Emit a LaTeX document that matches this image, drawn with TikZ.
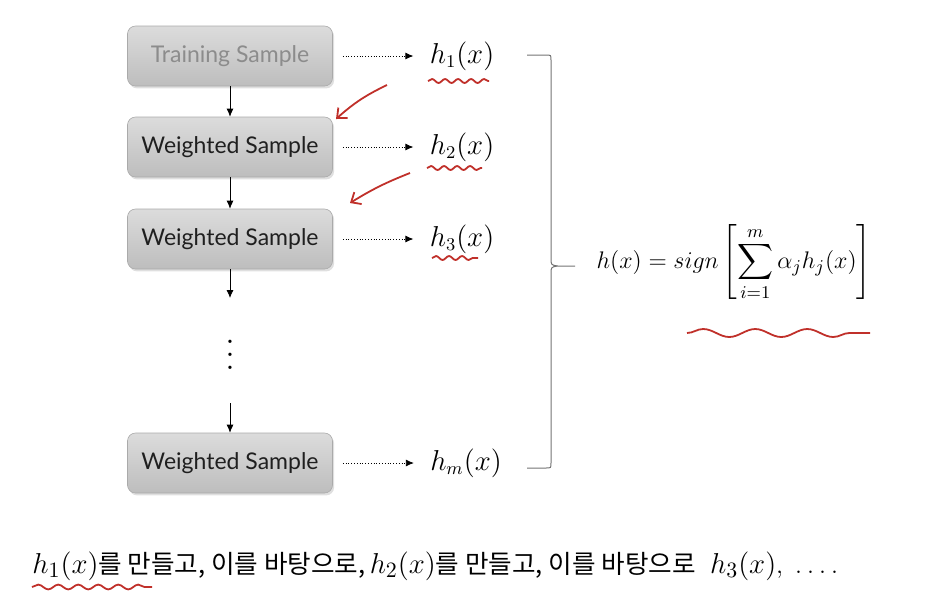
\documentclass[tikz,border=0pt]{standalone}
\usepackage{fontspec}
\usepackage{amsmath, amssymb}
\newfontfamily\boxfont{Lato}
\newfontfamily\kofont{Noto Sans CJK KR}
\usetikzlibrary{arrows.meta, positioning, shadows, decorations.pathmorphing}
\definecolor{ink}{HTML}{C0302A}
\definecolor{boxtop}{HTML}{DCDCDC}
\definecolor{boxbot}{HTML}{BDBDBD}
\newcommand{\hx}[1]{{\fontsize{15.5}{17}\selectfont$#1$}}

\begin{document}
\begin{tikzpicture}[
        x=0.5pt, y=-0.5pt, on grid, >={Latex[length=4pt,width=3.5pt]},
        sample/.style={rounded corners=4pt, minimum width=102.5pt, minimum height=30pt,
          top color=boxtop, bottom color=boxbot, draw=boxbot!90!black, line width=0.3pt,
          drop shadow={shadow xshift=0.8pt, shadow yshift=-1.2pt, opacity=0.25},
          font=\boxfont\fontsize{11.5}{14}\selectfont, text=black!88},
        hyp/.style={font=\fontsize{13.5}{16}\selectfont, inner sep=1pt},
        weak/.style={->, densely dotted, shorten <=5pt, shorten >=7pt},
        wavy/.style={ink, line width=0.9pt, decorate,
          decoration={snake, amplitude=1pt, segment length=6.5pt}},
        scribble/.style={ink, line width=0.9pt, -{Straight Barb[length=4pt,width=7pt]}},
        ]
        \useasboundingbox (0,0) rectangle (938,591);

        \node[sample, text=black!45]    (ts) at (230,56)           {Training Sample};
        \node[sample]                   (w1) [below=45.5pt of ts]  {Weighted Sample};
        \node[sample]                   (w2) [below=46pt of w1]    {Weighted Sample};
        \node                           (dots) [below=53pt of w2]  {\scalebox{1.6}{$\boldsymbol{\vdots}$}};
        \node[sample]                   (wm) [below=112pt of w2]   {Weighted Sample};
        \node[coordinate] (w2end) [below=29.5pt of w2] {};
        \node[coordinate] (wmbeg) [above=30pt of wm] {};

        \node[hyp] (h1) [right=116pt of ts] {$h_1(x)$};
        \node[hyp] (h2) [right=116pt of w1] {$h_2(x)$};
        \node[hyp] (h3) [right=116pt of w2] {$h_3(x)$};
        \node[hyp] (hm) [right=118pt of wm] {$h_m(x)$};

        \node[font=\fontsize{12.5}{14}\selectfont] (final) at (734,263)
          {$h(x) = sign\left[\displaystyle\sum_{i=1}^{m}\alpha_j h_j(x)\right]$};

        \node[anchor=west, inner sep=0pt, font=\fontsize{12.8}{15}\selectfont] (note) at (32,566)
          {\hx{h_1(x)}{\kofont 를 만들고, 이를 바탕으로,}\,\hx{h_2(x)}{\kofont 를 만들고, 이를 바탕으로}\ \hspace{3pt}\hx{h_3(x)},\hspace{6pt}.\hspace{2.5pt}.\hspace{2.5pt}.\hspace{2.5pt}.};

        \path[->] (ts) edge (w1)
        (w1) edge (w2)
        (w2.south) edge (w2end)
        (wmbeg) edge (wm.north);
        \path (ts.east) edge[weak] (h1)
        (w1.east) edge[weak] (h2)
        (w2.east) edge[weak] (h3)
        (wm.east) edge[weak] (hm);

        % brace
        \draw[black!55, line width=0.5pt]
          (527,55) -- (546,55) .. controls (551,55) .. (551,60) -- (551,258)
          .. controls (551,265) .. (558,266) -- (575,266)
          (558,266) .. controls (551,267) .. (551,274) -- (551,463)
          .. controls (551,468) .. (546,468) -- (527,468);

        % red marks
        \draw[wavy] (428,81) -- (489,81);
        \draw[wavy] (427,168) -- (482,168);
        \draw[wavy] (432,258) -- (478,258);
        \draw[wavy, decoration={snake, amplitude=2pt, segment length=26pt}] (687,333) -- (870,333);
        \draw[wavy, decoration={snake, amplitude=1.2pt, segment length=10pt}] (32,587) -- (152,587);
        \coordinate (m1a) at (387,85);  \coordinate (m1b) at (336,119);
        \coordinate (m2a) at (410,173); \coordinate (m2b) at (350,203);
        \draw[scribble] (m1a) to[bend right=8] (m1b);
        \draw[scribble] (m2a) to[bend right=5] (m2b);
      \end{tikzpicture}
\end{document}
